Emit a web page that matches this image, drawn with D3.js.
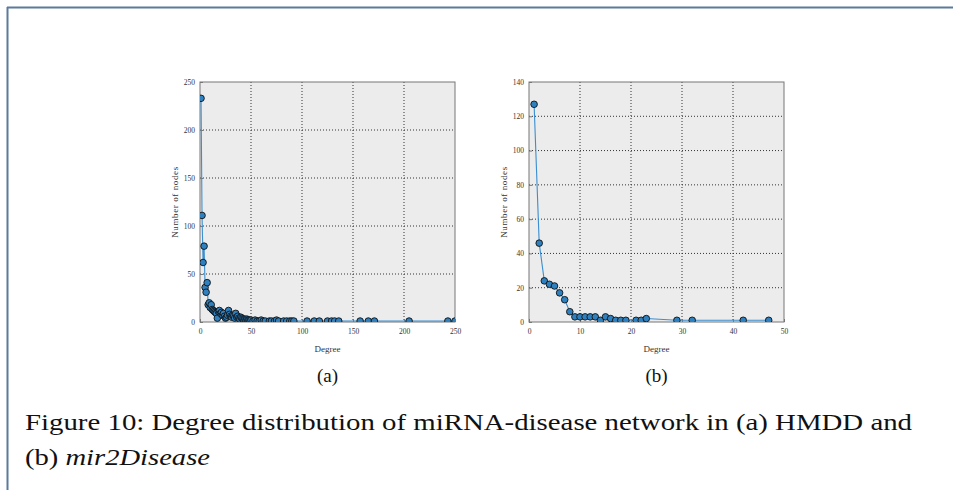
<!DOCTYPE html>
<html>
<head>
<meta charset="utf-8">
<script src="https://cdn.jsdelivr.net/npm/d3@7"></script>
<style>
  body { margin: 0; background: #fff; }
  svg { display: block; }
  svg text { font-family: "Liberation Serif", "Times New Roman", serif; }
</style>
</head>
<body>
<svg id="fig" width="953" height="490"></svg>
<script>
// ---- data ----
// (a) HMDD: degree -> number of nodes
const hmddDegree = [1,2,3,4,5,6,7,8,9,10,11,12,13,14,15,16,17,18,19,20,21,22,23,24,25,26,27,28,29,30,
  31,32,33,34,35,36,37,38,39,40,41,42,43,44,45,46,47,48,49,50,52,54,56,58,60,62,64,68,70,73,75,77,
  82,85,88,90,92,105,112,117,125,129,132,136,157,165,171,205,243,250]
const hmddCount = [233,111,62,79,36,31,41,18,20,15,18,13,12,11,10,9,4,11,12,9,10,7,9,6,4,5,7,12,8,6,
  5,7,6,4,9,5,6,4,3,5,4,3,2,3,2,3,2,2,1,2,1,2,1,1,2,1,1,1,1,1,2,1,
  1,1,1,1,1,1,1,1,1,1,1,1,1,1,1,1,1,1]
// (b) mir2Disease
const mirDegree = [1,2,3,4,5,6,7,8,9,10,11,12,13,14,15,16,17,18,19,21,22,23,29,32,42,47]
const mirCount  = [127,46,24,22,21,17,13,6,3,3,3,3,3,1,3,2,1,1,1,1,1,2,1,1,1,1]

const hmddXTicks = [0,50,100,150,200,250]
const hmddYTicks = [0,50,100,150,200,250]
const mirXTicks = [0,10,20,30,40,50]
const mirYTicks = [0,20,40,60,80,100,120,140]

const svg = d3.select("#fig")

// page frame
svg.append("line").attr("x1", 7).attr("y1", 7.5).attr("x2", 953).attr("y2", 7.5)
  .attr("stroke", "#5b7b9c").attr("stroke-width", 2)
svg.append("line").attr("x1", 7.5).attr("y1", 7).attr("x2", 7.5).attr("y2", 490)
  .attr("stroke", "#5b7b9c").attr("stroke-width", 2)

function panel(opts) {
  const { left, right, top, bottom, xs, ys, xDomain, yDomain, xTicks, yTicks, id } = opts
  const x = d3.scaleLinear().domain(xDomain).range([left, right])
  const y = d3.scaleLinear().domain(yDomain).range([bottom, top])
  const g = svg.append("g")

  g.append("rect").attr("x", left).attr("y", top)
    .attr("width", right - left).attr("height", bottom - top)
    .attr("fill", "#ececec")

  // dotted grid
  g.selectAll(".gx").data(xTicks.slice(1, -1)).join("line")
    .attr("x1", d => x(d)).attr("x2", d => x(d)).attr("y1", top).attr("y2", bottom)
    .attr("stroke", "#333").attr("stroke-width", 1).attr("stroke-dasharray", "1,2")
  g.selectAll(".gy").data(yTicks.slice(1, -1)).join("line")
    .attr("y1", d => y(d)).attr("y2", d => y(d)).attr("x1", left).attr("x2", right)
    .attr("stroke", "#333").attr("stroke-width", 1).attr("stroke-dasharray", "1,2")

  // frame
  g.append("rect").attr("x", left).attr("y", top)
    .attr("width", right - left).attr("height", bottom - top)
    .attr("fill", "none").attr("stroke", "#777").attr("stroke-width", 1)

  const xAxis = g.append("g").attr("transform", `translate(0,${bottom})`)
    .call(d3.axisBottom(x).tickValues(xTicks).tickSize(-3).tickPadding(7))
  const yAxis = g.append("g").attr("transform", `translate(${left},0)`)
    .call(d3.axisLeft(y).tickValues(yTicks).tickSize(-3).tickPadding(5))
  ;[xAxis, yAxis].forEach(a => {
    a.attr("font-family", null)
    a.select(".domain").remove()
    a.selectAll(".tick line").attr("stroke", "#777")
    a.selectAll(".tick text").attr("font-size", 7.5).attr("fill", "#333")
  })

  // series
  const clipId = "clip-" + id
  svg.append("clipPath").attr("id", clipId).append("rect")
    .attr("x", left).attr("y", top - 5).attr("width", right - left).attr("height", bottom - top + 5)
  const pts = xs.map((d, i) => [d, ys[i]])
  const s = g.append("g").attr("clip-path", `url(#${clipId})`)
  s.append("path").datum(pts)
    .attr("d", d3.line().x(d => x(d[0])).y(d => y(d[1])))
    .attr("fill", "none").attr("stroke", "#3b8ed0").attr("stroke-width", 1.1)
  s.selectAll("circle").data(pts).join("circle")
    .attr("cx", d => x(d[0])).attr("cy", d => y(d[1])).attr("r", 3.3)
    .attr("fill", "#2f80bf").attr("stroke", "#111").attr("stroke-width", 0.9)

  // axis titles
  g.append("text").attr("x", (left + right) / 2).attr("y", bottom + 30)
    .attr("text-anchor", "middle")
    .attr("font-size", 9).attr("fill", "#333").text("Degree")
  g.append("text")
    .attr("transform", `translate(${left - 22},${(top + bottom) / 2}) rotate(-90)`)
    .attr("text-anchor", "middle")
    .attr("font-size", 9).attr("fill", "#333").attr("letter-spacing", 0.6).text("Number of nodes")

  svg.append("text").attr("x", (left + right) / 2).attr("y", 382)
    .attr("text-anchor", "middle")
    .attr("font-size", 19).attr("fill", "#111").text(opts.sub)
}

panel({ id: "a", left: 200, right: 455, top: 82, bottom: 322,
  xs: hmddDegree, ys: hmddCount, xDomain: [0, 250], yDomain: [0, 250],
  xTicks: hmddXTicks, yTicks: hmddYTicks, sub: "(a)" })
panel({ id: "b", left: 529, right: 784, top: 82, bottom: 322,
  xs: mirDegree, ys: mirCount, xDomain: [0, 50], yDomain: [0, 140],
  xTicks: mirXTicks, yTicks: mirYTicks, sub: "(b)" })

// caption
svg.append("text").attr("x", 25).attr("y", 430)
  .attr("font-size", 24).attr("fill", "#111")
  .attr("textLength", 887).attr("lengthAdjust", "spacingAndGlyphs")
  .text("Figure 10: Degree distribution of miRNA-disease network in (a) HMDD and")
const cap2 = svg.append("text").attr("x", 25).attr("y", 465)
  .attr("font-size", 24).attr("fill", "#111")
  .attr("textLength", 185).attr("lengthAdjust", "spacingAndGlyphs")
cap2.append("tspan").text("(b) ")
cap2.append("tspan").attr("font-style", "italic").text("mir2Disease")
</script>
</body>
</html>
